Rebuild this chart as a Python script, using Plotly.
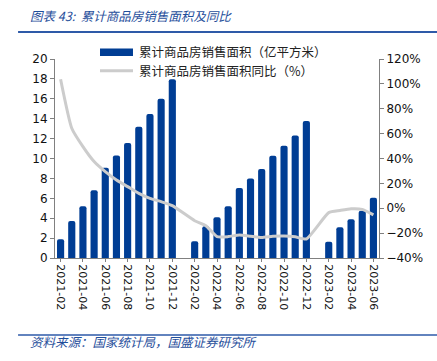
import plotly.graph_objects as go

months = ["2021-02", "2021-03", "2021-04", "2021-05", "2021-06", "2021-07", "2021-08",
          "2021-09", "2021-10", "2021-11", "2021-12", "2022-01", "2022-02", "2022-03",
          "2022-04", "2022-05", "2022-06", "2022-07", "2022-08", "2022-09", "2022-10",
          "2022-11", "2022-12", "2023-01", "2023-02", "2023-03", "2023-04", "2023-05",
          "2023-06"]
tick_labels = ["2021-02", "2021-04", "2021-06", "2021-08", "2021-10", "2021-12",
               "2022-02", "2022-04", "2022-06", "2022-08", "2022-10", "2022-12",
               "2023-02", "2023-04", "2023-06"]
area = [1.88, 3.72, 5.20, 6.80, 9.08, 10.30, 11.55, 13.20, 14.47, 16.00, 17.96, None,
        1.68, 3.20, 4.09, 5.20, 7.03, 8.00, 8.94, 10.28, 11.29, 12.30, 13.77, None,
        1.64, 3.08, 3.89, 4.76, 6.06]
yoy = [103.7, 64.3, 49.5, 37.5, 29.4, 22.7, 17.4, 12.0, 8.0, 5.3, 2.1, None,
       -10.0, -14.0, -22.8, -22.8, -21.5, -22.5, -23.5, -22.5, -22.3, -23.0, -24.7, None,
       -3.5, -1.8, -0.4, -0.9, -5.3]

bar_name = "累计商品房销售面积（亿平方米）"
line_name = "累计商品房销售面积同比（%）"
title_text = "图表 43:  累计商品房销售面积及同比"
source_text = "资料来源：国家统计局，国盛证券研究所"

BAR_COLOR = "#003d94"
LINE_COLOR = "#cccccc"
BLUE = "#1f4e9b"

fig = go.Figure()
fig.add_trace(go.Bar(x=months, y=area, name=bar_name, marker_color=BAR_COLOR,
                     marker_line_width=0, yaxis="y"))
fig.add_trace(go.Scatter(x=months, y=yoy, name=line_name, mode="lines",
                         line=dict(color=LINE_COLOR, width=3, shape="spline", smoothing=0.5),
                         connectgaps=True, yaxis="y2"))

tick_font = dict(family="DejaVu Sans", size=12, color="#111111")
legend_font = dict(family="Noto Sans CJK SC", size=12.5, color="#222222")
fig.update_layout(
    width=437, height=361,
    margin=dict(l=55, r=58, t=59, b=103, autoexpand=False),
    paper_bgcolor="white", plot_bgcolor="white",
    bargap=0.36, barcornerradius=2,
    showlegend=False,
    xaxis=dict(type="category", categoryorder="array", categoryarray=months,
               tickmode="array", tickvals=tick_labels, ticktext=tick_labels,
               tickangle=90, tickfont=dict(family="DejaVu Sans", size=11, color="#111111"),
               showline=True, linecolor="#808080", linewidth=1,
               ticks="outside", ticklen=3, tickcolor="#808080",
               showgrid=False, zeroline=False),
    yaxis=dict(range=[0, 20], dtick=2, tickfont=tick_font, showline=True,
               linecolor="#808080", linewidth=1, ticks="outside", ticklen=4,
               tickcolor="#808080", showgrid=False, zeroline=False),
    yaxis2=dict(range=[-40, 120], dtick=20, ticksuffix="%", tickfont=tick_font,
                overlaying="y", side="right", showline=True, linecolor="#808080",
                linewidth=1, ticks="outside", ticklen=4, tickcolor="#808080",
                showgrid=False, zeroline=False),
    annotations=[
        dict(text=title_text, xref="paper", yref="paper", x=-0.083, y=1.221,
             xanchor="left", yanchor="middle", showarrow=False,
             font=dict(family="Noto Sans CJK SC", size=12.5, color=BLUE, style="italic")),
        dict(text=source_text, xref="paper", yref="paper", x=-0.083, y=-0.422,
             xanchor="left", yanchor="middle", showarrow=False,
             font=dict(family="Noto Sans CJK SC", size=12.5, color=BLUE, style="italic")),
        dict(text=bar_name, xref="paper", yref="paper", x=0.2531, y=1.0352,
             xanchor="left", yanchor="middle", showarrow=False, font=legend_font),
        dict(text=line_name, xref="paper", yref="paper", x=0.2531, y=0.9412,
             xanchor="left", yanchor="middle", showarrow=False, font=legend_font),
    ],
    shapes=[
        dict(type="line", xref="paper", yref="paper", x0=-0.114, x1=1.18,
             y0=1.1357, y1=1.1357, line=dict(color="#2e5aa8", width=2)),
        dict(type="line", xref="paper", yref="paper", x0=-0.114, x1=1.18,
             y0=-0.387, y1=-0.387, line=dict(color="#2e5aa8", width=1.5)),
        dict(type="rect", xref="paper", yref="paper", x0=0.1389, x1=0.2407,
             y0=1.0151, y1=1.0528, fillcolor=BAR_COLOR, line=dict(width=0)),
        dict(type="line", xref="paper", yref="paper", x0=0.1389, x1=0.2407,
             y0=0.9412, y1=0.9412, line=dict(color=LINE_COLOR, width=3)),
    ],
)
fig.write_html("out.html", config={"displayModeBar": False},
               post_script="document.body.style.margin='0';document.body.style.overflow='hidden';")
